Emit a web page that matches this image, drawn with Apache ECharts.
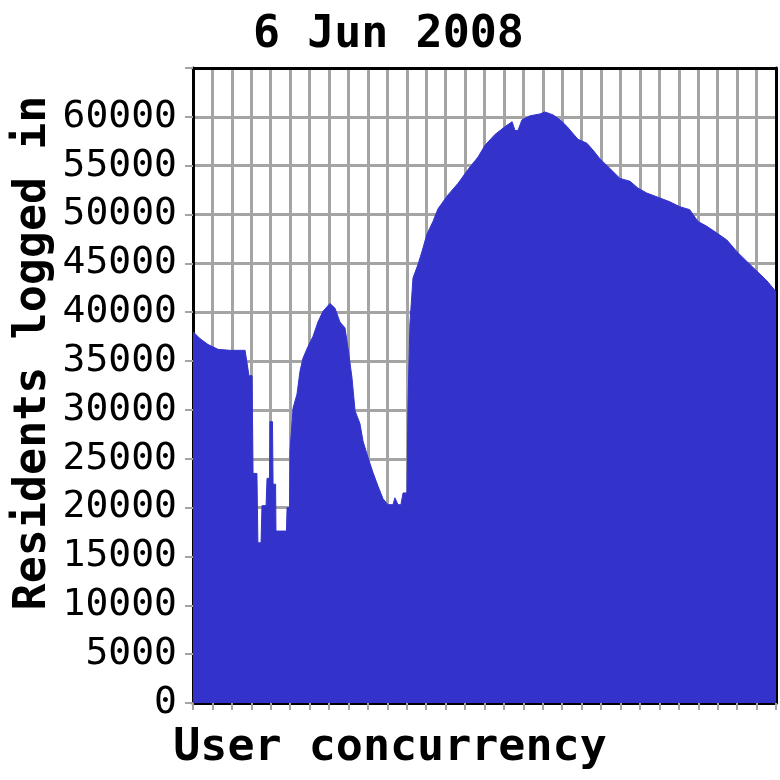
<!DOCTYPE html>
<html>
<head>
<meta charset="utf-8">
<script src="https://cdn.jsdelivr.net/npm/echarts@6/dist/echarts.min.js"></script>
<style>html,body{margin:0;padding:0;background:#fff;}#c{width:780px;height:780px;}</style>
</head>
<body>
<div id="c"></div>
<script>
const titleText = '6 Jun 2008';
const xName = 'User concurrency';
const yName = 'Residents logged in';
// x positions in grid-interval units (0..30)
const xPos = [0,0.36,0.77,1.29,1.90,2.68,2.88,3.04,3.09,3.29,3.34,3.50,3.55,3.76,3.81,3.94,3.96,4.09,4.12,4.25,4.27,4.81,4.84,4.97,4.99,5.15,5.35,5.51,5.66,5.92,6.17,6.43,6.69,7.05,7.31,7.56,7.82,7.98,8.18,8.34,8.59,8.75,9.01,9.26,9.52,9.78,10.03,10.29,10.39,10.55,10.70,10.81,11.01,11.06,11.16,11.32,11.58,11.78,12.04,12.35,12.61,13.12,13.64,14.15,14.67,15.03,15.54,16.06,16.42,16.57,16.72,16.93,17.34,17.86,18.11,18.53,18.89,19.25,19.55,19.81,20.27,20.58,20.94,21.46,21.97,22.49,22.90,23.35,24.02,24.54,25.05,25.56,25.98,26.44,26.96,27.47,27.99,28.50,29.02,29.54,30];
const users = [38000,37300,36700,36200,36100,36100,33500,33500,23500,23500,16400,16400,20200,20200,23000,23000,28800,28800,22400,22400,17600,17600,20000,20000,25800,30200,31600,34000,35300,36500,37500,39000,40100,40900,40400,39000,38400,36300,33300,29900,28600,26800,25100,23600,22200,20900,20300,20300,21000,20300,20300,21500,21500,30200,38800,43500,44900,46200,48000,49300,50600,52000,53200,54600,55900,57100,58200,59000,59500,58600,58600,59700,60100,60300,60500,60200,59700,59000,58300,57700,57300,56600,55700,54700,53700,53400,52700,52200,51700,51300,50800,50500,49300,48800,48100,47400,46200,45200,44200,43200,42100];

const data = xPos.map((x, i) => [x, users[i]]);
const chart = echarts.init(document.getElementById('c'));
const gray = '#a4a4a4';
const bigFont = 'bold 45px "DejaVu Sans Mono"';
chart.setOption({
  backgroundColor: '#fff',
  animation: false,
  title: {
    text: titleText, left: 248, top: 8,
    textStyle: { fontFamily: 'DejaVu Sans Mono', fontWeight: 'bold', fontSize: 45, color: '#000' }
  },
  graphic: [
    { type: 'text', x: 390, y: 748, style: { text: xName, font: bigFont, fill: '#000', textAlign: 'center', textVerticalAlign: 'middle' } },
    { type: 'text', x: 33, y: 353, rotation: Math.PI / 2, style: { text: yName, font: bigFont, fill: '#000', textAlign: 'center', textVerticalAlign: 'middle' } }
  ],
  grid: { left: 193, right: 4, top: 68, bottom: 77, show: false },
  xAxis: [{
    type: 'value', min: 0, max: 30, interval: 1,
    axisLine: { show: true, onZero: false, lineStyle: { color: '#000', width: 3 } },
    axisTick: { show: true, length: 7, lineStyle: { color: gray, width: 2 } },
    axisLabel: { show: false },
    splitLine: { show: true, lineStyle: { color: gray, width: 3 } }
  }, {
    type: 'value', position: 'top', min: 0, max: 30,
    axisLine: { show: true, onZero: false, lineStyle: { color: '#000', width: 3 } },
    axisTick: { show: false }, axisLabel: { show: false }, splitLine: { show: false }
  }],
  yAxis: [{
    type: 'value', min: 0, max: 65000, interval: 5000,
    axisLine: { show: true, onZero: false, lineStyle: { color: '#000', width: 3 } },
    axisTick: { show: true, length: 8, lineStyle: { color: gray, width: 2 } },
    axisLabel: {
      margin: 16, color: '#000', fontFamily: 'DejaVu Sans Mono', fontSize: 38,
      formatter: v => v > 60000 ? '' : String(v)
    },
    splitLine: { show: true, lineStyle: { color: gray, width: 3 } }
  }, {
    type: 'value', position: 'right', min: 0, max: 65000,
    axisLine: { show: true, onZero: false, lineStyle: { color: '#000', width: 3 } },
    axisTick: { show: false }, axisLabel: { show: false }, splitLine: { show: false }
  }],
  series: [{
    type: 'line', data: data, showSymbol: false, z: 1,
    lineStyle: { color: '#3333cc', width: 1 },
    areaStyle: { color: '#3333cc', opacity: 1 },
    itemStyle: { color: '#3333cc' }
  }]
});
</script>
</body>
</html>
